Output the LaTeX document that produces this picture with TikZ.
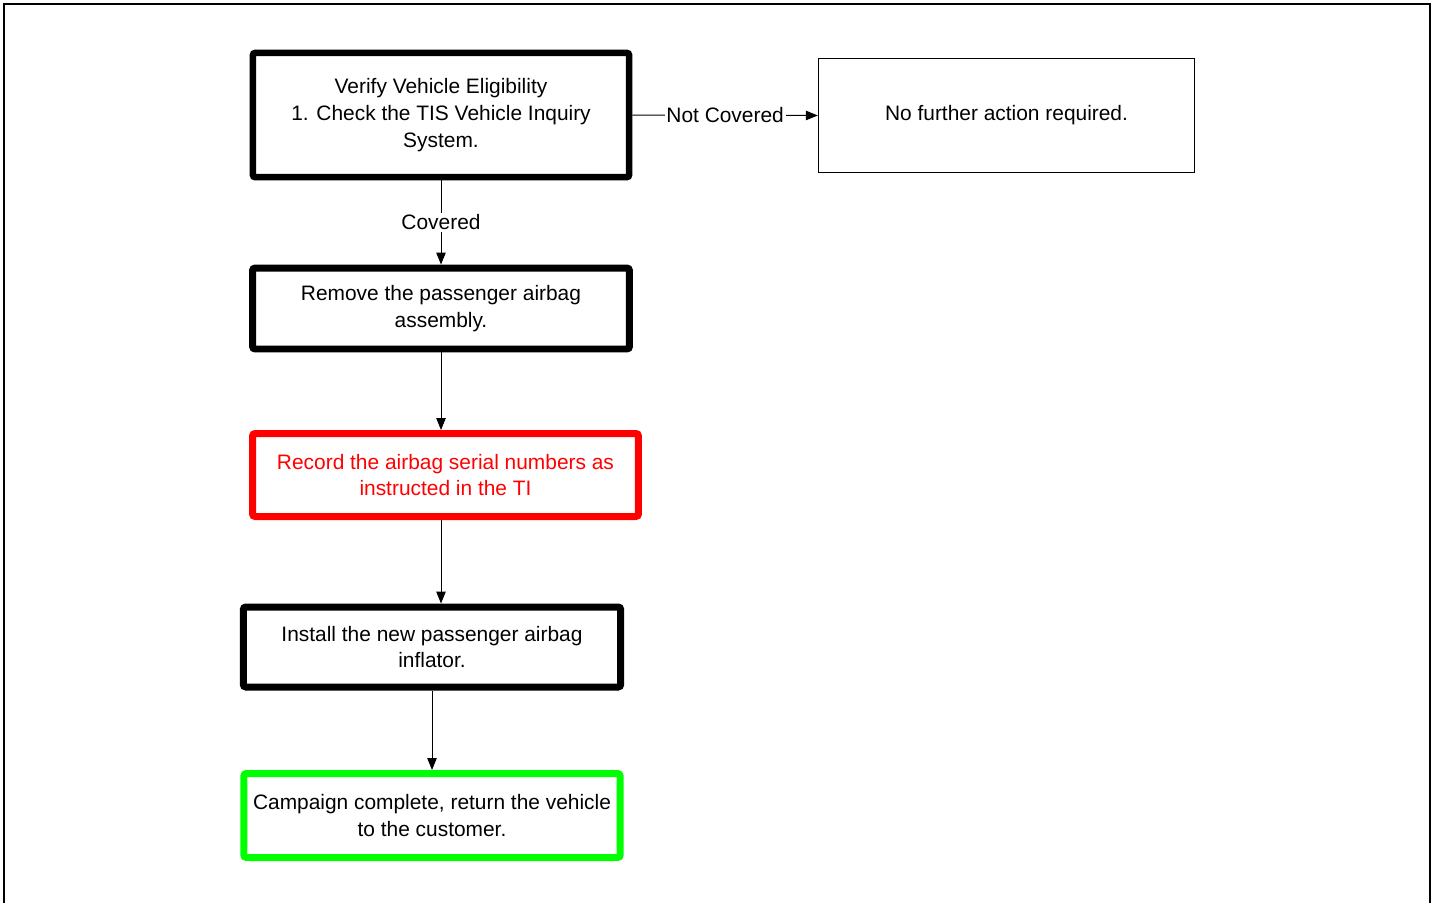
\documentclass[tikz,border=0pt]{standalone}
\usepackage{fontspec}
\setmainfont{Liberation Sans}
\usetikzlibrary{arrows.meta}

\begin{document}
\begin{tikzpicture}[
  x=0.02cm, y=-0.02cm,
  >={Triangle[length=2.4mm, width=1.9mm]},
  font=\fontsize{11.9}{15.3}\selectfont,
  stepbox/.style={draw, rounded corners=1.5pt, line width=0.14cm,
                  align=center, inner sep=0pt, minimum width=7.54cm},
  endbox/.style={draw, line width=0.03cm, align=center, inner sep=0pt,
                 minimum width=7.52cm, minimum height=2.28cm},
  lbl/.style={fill=white, inner sep=1pt},
  arr/.style={->, line width=0.02cm}
]
\useasboundingbox (0,0) rectangle (1435,903);

%% Outer frame
\draw[line width=0.04cm] (4,903) -- (4,4) -- (1430,4) -- (1430,903);

%% Steps
\node[stepbox, line width=0.13cm, minimum width=7.53cm, minimum height=2.49cm]
  (verify) at (441,115) {Verify Vehicle Eligibility\\1. Check the TIS Vehicle Inquiry\\System.};
\node[endbox] (nofurther) at (1006.5,115.5) {No further action required.};
\node[stepbox, minimum height=1.62cm]
  (remove) at (441,308.5) {Remove the passenger airbag\\assembly.};
\node[stepbox, draw=red, text=red, minimum width=7.72cm, minimum height=1.66cm]
  (record) at (445.5,475) {Record the airbag serial numbers as\\instructed in the TI};
\node[stepbox, minimum width=7.55cm, minimum height=1.6cm]
  (install) at (432,647) {Install the new passenger airbag\\inflator.};
\node[stepbox, draw=green, minimum width=7.53cm, minimum height=1.68cm]
  (campaign) at (432,815.5) {Campaign complete, return the vehicle\\to the customer.};

%% Connectors
\draw[arr] (verify.east) -- node[lbl] {Not Covered} (nofurther.west);
\draw[arr] (verify.south) -- node[lbl] {Covered} (remove.north);
\draw[arr] (remove.south) -- (remove.south |- record.north);
\draw[arr] (record.south -| remove.south) -- (remove.south |- install.north);
\draw[arr] (install.south) -- (campaign.north);

\end{tikzpicture}
\end{document}
